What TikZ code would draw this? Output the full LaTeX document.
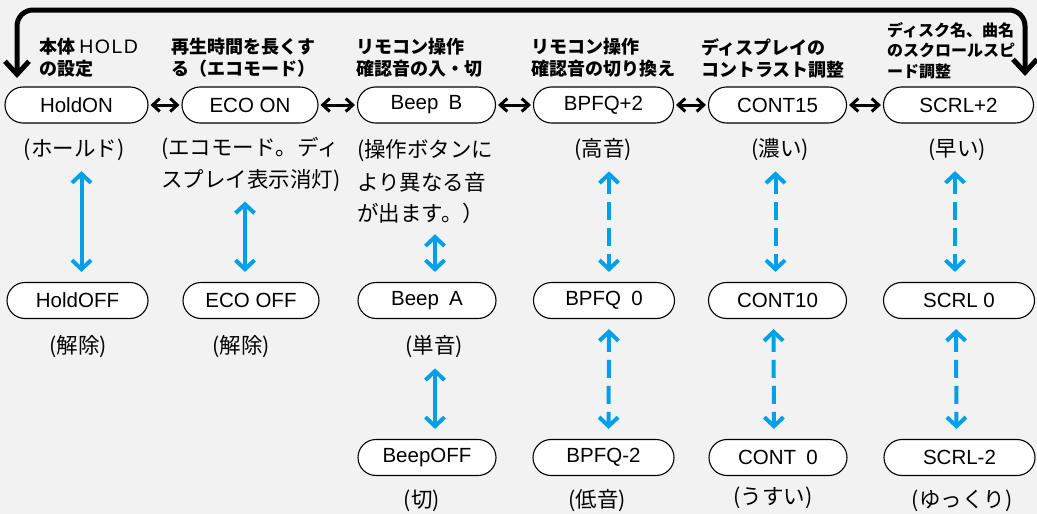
\documentclass[tikz,border=0pt]{standalone}
\usepackage{fontspec}
\setmainfont{Liberation Sans}
\newfontfamily\jp{Noto Sans CJK JP}
\usetikzlibrary{arrows.meta,positioning}
\definecolor{bggray}{HTML}{F2F2F2}
\definecolor{arrblue}{HTML}{00A0E9}
\newcommand{\spaced}[1]{{\normalfont\mdseries\fontsize{19.5}{22}\selectfont #1}}

\begin{document}
\begin{tikzpicture}[x=1pt, y=-1pt,
  every node/.style={inner sep=0pt},
  box/.style={draw, line width=1.1pt, fill=white, rounded corners=18pt, minimum height=36pt, minimum width=138pt, font=\fontsize{20.5}{24}\selectfont},
  head/.style={anchor=west, align=left, font=\fontsize{18}{22}\selectfont\jp\bfseries},
  desc/.style={align=left, font=\fontsize{21.5}{32}\selectfont\jp},
  harr/.style={{Straight Barb[length=7pt,width=13pt]}-{Straight Barb[length=7pt,width=13pt]}, line width=3pt, shorten <=2pt, shorten >=2pt},
  varr/.style={{Straight Barb[length=9pt,width=19pt]}-{Straight Barb[length=9pt,width=19pt]}, line width=4pt, arrblue, shorten <=10pt, shorten >=10pt},
  dvarr/.style={varr, dash pattern=on 18pt off 8pt},
  wrap/.style={{Straight Barb[length=13pt,width=24pt]}-{Straight Barb[length=13pt,width=24pt]}, line width=5pt, rounded corners=16pt}]
  \fill[bggray] (0,0) rectangle (1037,514);
  \useasboundingbox (0,0) rectangle (1037,514);

  % headings
  \node[head] (hhold) at (39,58) {本体 \spaced{H\kern1.5pt O\kern1.5pt L\kern1.5pt D}\\の設定};
  \node[head] (heco) at (171,58) {再生時間を長くす\\る（エコモード）};
  \node[head] (hbeep) at (356,58) {リモコン操作\\確認音の入・切};
  \node[head] (hbpfq) at (531,58) {リモコン操作\\確認音の切り換え};
  \node[head] (hcont) at (701,58) {ディスプレイの\\コントラスト調整};
  \node[head, font=\fontsize{16}{20.5}\selectfont\jp\bfseries] (hscrl) at (887,50.5) {ディスク名、曲名\\のスクロールスピ\\ード調整};

  % top row
  \node[box, minimum width=143pt] (holdon) at (76.5,105) {HoldON};
  \node[box, minimum width=136pt] (ecoon) at (250,105) {ECO ON};
  \node[box] (beepb) at (426.5,105) {Beep\enspace B};
  \node[box, minimum width=140pt] (bpfqhi) at (603.5,105) {BPFQ+2};
  \node[box] (conthi) at (777.5,105) {CONT15};
  \node[box, minimum width=150pt] (scrlhi) at (958.5,105) {SCRL+2};

  % middle row
  \node[box, minimum width=141pt] (holdoff) at (77.5,300.5) {HoldOFF};
  \node[box, minimum width=136pt] (ecooff) at (251,300.5) {ECO OFF};
  \node[box] (beepa) at (427,300.5) {Beep\enspace A};
  \node[box, minimum width=141pt] (bpfqmid) at (604,300.5) {BPFQ\enspace 0};
  \node[box] (contmid) at (777.5,300.5) {CONT10};
  \node[box, minimum width=151pt] (scrlmid) at (959,300.5) {SCRL 0};

  % bottom row
  \node[box] (beepoff) at (427,457.5) {BeepOFF};
  \node[box, minimum width=141pt] (bpfqlo) at (603.5,457.5) {BPFQ-2};
  \node[box] (contlo) at (778,457.5) {CONT\enspace 0};
  \node[box, minimum width=151pt] (scrllo) at (959.5,457.5) {SCRL-2};

  % notes
  \node[desc] (holdlab) at (74,150) {(ホールド)};
  \node[desc, anchor=west] (ecodesc) at (161,164) {(エコモード。ディ\\スプレイ表示消灯)};
  \node[desc, anchor=west] (beepdesc) at (357,182) {(操作ボタンに\\より異なる音\\が出ます。）};
  \node[desc] (bpfqlab) at (603,150) {(高音)};
  \node[desc] (contlab) at (780,150) {(濃い)};
  \node[desc] (scrllab) at (957,150) {(早い)};
  \node[desc] (holdofflab) at (78,347) {(解除)};
  \node[desc] (ecoofflab) at (241,347) {(解除)};
  \node[desc] (beepalab) at (434,347) {(単音)};
  \node[desc] (beepofflab) at (422,501) {(切)};
  \node[desc] (bpfqlolab) at (597,501) {(低音)};
  \node[desc] (contlolab) at (773,498) {(うすい)};
  \node[desc] (scrllolab) at (962,501) {(ゆっくり)};

  % cycle arrows
  \draw[harr] (holdon) -- (ecoon);
  \draw[harr] (ecoon) -- (beepb);
  \draw[harr] (beepb) -- (bpfqhi);
  \draw[harr] (bpfqhi) -- (conthi);
  \draw[harr] (conthi) -- (scrlhi);
  \coordinate (wrapl) at (17,78);
  \coordinate (wrapr) at (1025,76);
  \coordinate (topl) at (17,10);
  \coordinate (topr) at (1025,10);
  \draw[wrap] (wrapl) -- (topl) -- (topr) -- (wrapr);

  % up/down arrows
  \draw[varr] ([xshift=4pt]holdoff.north |- holdlab.south) -- ([xshift=4pt]holdoff.north);
  \draw[varr] ([xshift=-6pt]ecooff.north |- ecodesc.south) -- ([xshift=-6pt]ecooff.north);
  \draw[varr] ([xshift=8pt]beepa.north |- beepdesc.south) -- ([xshift=8pt]beepa.north);
  \draw[varr] ([xshift=8pt]beepoff.north |- beepalab.south) -- ([xshift=8pt]beepoff.north);
  \draw[dvarr] ([xshift=5pt]bpfqmid.north |- bpfqlab.south) -- ([xshift=5pt]bpfqmid.north);
  \draw[dvarr] ([xshift=-2pt]contmid.north |- contlab.south) -- ([xshift=-2pt]contmid.north);
  \draw[dvarr] ([xshift=-4pt]scrlmid.north |- scrllab.south) -- ([xshift=-4pt]scrlmid.north);
  \draw[dvarr] ([xshift=5pt]bpfqmid.south) -- ([xshift=5pt]bpfqlo.north);
  \draw[dvarr] ([xshift=-4pt]contmid.south) -- ([xshift=-4pt]contlo.north);
  \draw[dvarr] ([xshift=-3pt]scrlmid.south) -- ([xshift=-3pt]scrllo.north);
\end{tikzpicture}
\end{document}
